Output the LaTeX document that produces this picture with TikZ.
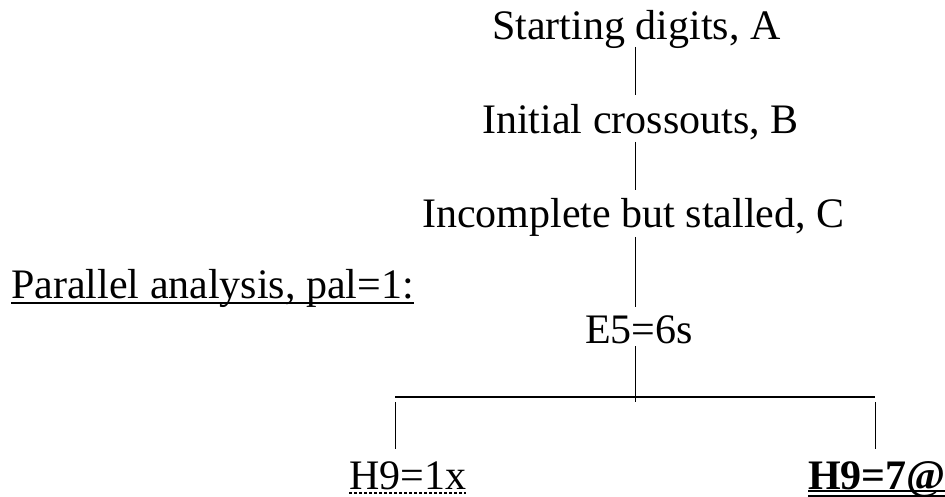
\documentclass[tikz,border=0pt]{standalone}
\usepackage{fontspec}
\setmainfont{Liberation Serif}
\begin{document}
\begin{tikzpicture}[x=1pt,y=-1pt,
  lbl/.style={anchor=base west,inner sep=0pt,font=\fontsize{42}{48}\selectfont},
  stem/.style={line width=0.8pt},
  bar/.style={line width=1.8pt},
  uline/.style={line width=1.6pt}]
\useasboundingbox (0,0) rectangle (945,497);

% labels of the tree
\node[lbl] (A) at (492,40) {Starting digits, A};
\node[lbl] (B) at (482,134) {Initial crossouts, B};
\node[lbl] (C) at (422,228) {Incomplete but stalled, C};
\node[lbl] (E) at (585,343) {E5=6s};
\node[lbl] (P) at (11,298) {Parallel analysis, pal=1:};
\node[lbl] (L) at (349,489) {H9=1x};
\node[lbl,font=\fontsize{42}{48}\selectfont\bfseries] (R) at (808,489) {H9=7@};

% end points of the connectors
\coordinate (a1) at (635,47);  \coordinate (b0) at (635,95);
\coordinate (b1) at (635,142); \coordinate (c0) at (635,190);
\coordinate (c1) at (635,237); \coordinate (e0) at (635,307);
\coordinate (e1) at (635,346); \coordinate (e2) at (635,402);
\coordinate (hl) at (395,397); \coordinate (hr) at (875,397);
\coordinate (l0) at (395,402); \coordinate (l1) at (395,449);
\coordinate (r0) at (875,402); \coordinate (r1) at (875,449);

% trunk
\draw[stem] (a1) -- (b0);
\draw[stem] (b1) -- (c0);
\draw[stem] (c1) -- (e0);
\draw[stem] (e1) -- (e2);
% branch bar and legs
\draw[bar] (hl) -- (hr);
\draw[stem] (l0) -- (l1);
\draw[stem] (r0) -- (r1);

% underlines
\draw[uline] ([yshift=-5pt]P.base west) -- ([yshift=-5pt]P.base east);
\draw[line width=1.3pt,dash pattern=on 3pt off 2pt] ([yshift=-4pt]L.base west) -- ([yshift=-4pt]L.base east);
\draw[uline] ([yshift=-2pt]R.base west) -- ([yshift=-2pt]R.base east);
\draw[uline] ([yshift=-7pt]R.base west) -- ([yshift=-7pt]R.base east);
\end{tikzpicture}
\end{document}
